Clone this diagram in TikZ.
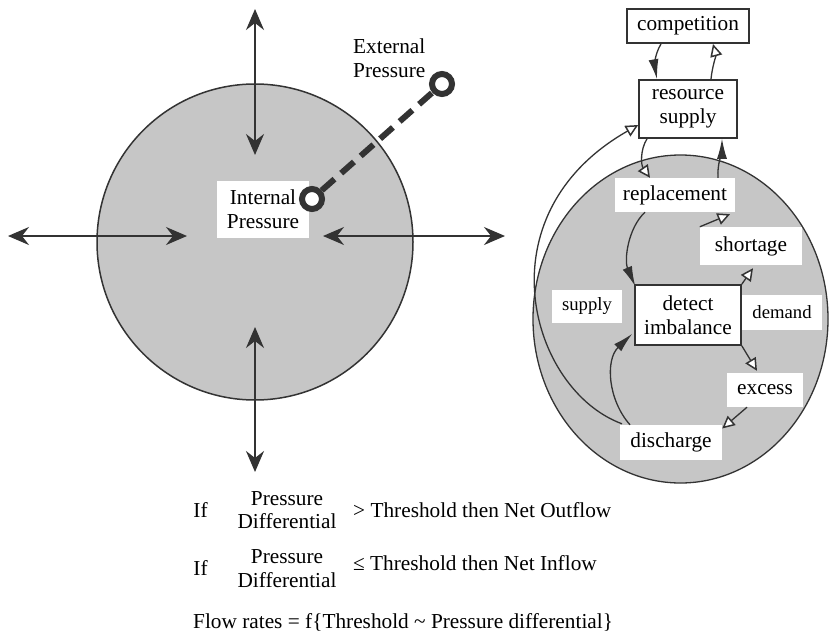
\documentclass[tikz,border=0pt]{standalone}
\usepackage{fontspec}
\setmainfont{Liberation Serif}
\usetikzlibrary{arrows.meta}
\definecolor{ink}{HTML}{333333}
\definecolor{shade}{HTML}{C6C6C6}
\tikzset{
  txt/.style={font=\fontsize{21.3pt}{24pt}\selectfont, inner sep=0pt, text=black},
  smalltxt/.style={font=\fontsize{18.7pt}{22pt}\selectfont, inner sep=0pt, text=black},
  wbox/.style={txt, fill=white, align=center},
  bbox/.style={txt, fill=white, draw=ink, align=center},
  dbl/.style={draw=ink, line width=1.9pt, {Stealth[length=21pt,width=18pt,inset=7pt]}-{Stealth[length=21pt,width=18pt,inset=7pt]}},
  ring/.style={circle, draw=ink, fill=white, line width=6pt, minimum size=20pt, inner sep=0pt},
  fl/.style={draw=ink, line width=1.3pt, -{Latex[length=20pt,width=10pt]}},
  op/.style={draw=ink, line width=1.3pt, -{Triangle[open,length=12.5pt,width=12pt,fill=white,line width=1.5pt]}},
}
\begin{document}
\begin{tikzpicture}[x=1pt,y=-1pt]
\useasboundingbox[fill=white] (0,0) rectangle (830,640);
% ---------- left circle ----------
\draw[fill=shade, draw=ink, line width=1.5pt] (255,242) circle[radius=158];
\coordinate (topout) at (255,9);
\coordinate (topin) at (255,155);
\coordinate (botin) at (255,327);
\coordinate (botout) at (255,472);
\coordinate (leftout) at (8,236);
\coordinate (leftin) at (187,236);
\coordinate (rightin) at (323,236);
\coordinate (rightout) at (505,236);
\draw[dbl] (topout) -- (topin);
\draw[dbl] (botin) -- (botout);
\draw[dbl] (leftout) -- (leftin);
\draw[dbl] (rightin) -- (rightout);
\node[wbox, minimum width=92pt, minimum height=57pt] (ip) at (263,209.5) {Internal\\Pressure};
\node[txt, align=left, anchor=north west] (ep) at (353,39) {External\\Pressure};
\node[ring] (inring) at (312,199) {};
\node[ring] (exring) at (442,84) {};
\draw[draw=ink, line width=6pt, dash pattern=on 17pt off 9pt] (inring) -- (exring);
% ---------- right ellipse ----------
\draw[fill=shade, draw=ink, line width=1.3pt] (680.5,319) ellipse[x radius=147.5, y radius=164];
\node[bbox, line width=2pt, minimum width=122pt, minimum height=34pt] (comp) at (688,26) {competition};
\node[bbox, line width=1.6pt, minimum width=98pt, minimum height=58pt] (res) at (688,109) {resource\\supply};
\node[wbox, minimum width=120pt, minimum height=34pt] (rep) at (675,195) {replacement};
\node[wbox, minimum width=102pt, minimum height=38pt] (short) at (751,246) {shortage};
\node[bbox, line width=1.6pt, minimum width=106pt, minimum height=60pt] (det) at (688,315) {detect\\imbalance};
\node[smalltxt, fill=white, minimum width=70pt, minimum height=33pt] (sup) at (587,306.5) {supply};
\node[smalltxt, fill=white, minimum width=80pt, minimum height=35pt] (dem) at (782,312.5) {demand};
\node[wbox, minimum width=76pt, minimum height=34pt] (exc) at (765,390) {excess};
\node[wbox, minimum width=102pt, minimum height=35pt] (dis) at (671,442.5) {discharge};
% connectors
\draw[fl] ([xshift=-27pt]comp.south) .. controls (654,55) and (655,68) .. ([xshift=-31pt]res.north);
\draw[op] ([xshift=23pt]res.north) .. controls (712,68) and (716,55) .. ([xshift=25pt]comp.south);
\draw[op] ([xshift=-41pt]res.south) .. controls (640,150) and (641,165) .. ([xshift=-25pt]rep.north);
\draw[fl] ([xshift=43pt]rep.north) .. controls (717,165) and (722,150) .. ([xshift=34pt]res.south);
\draw[fl] ([xshift=-30pt]rep.south) .. controls (628,228) and (624,260) .. ([xshift=1pt,yshift=-2pt]det.north west);
\draw[op] (short.north west) -- ([xshift=55pt,yshift=-2pt]rep.south);
\draw[op] (det.north east) -- ([xshift=2pt,yshift=-3pt]short.south);
\draw[op] (det.south east) -- ([xshift=-8pt,yshift=2pt]exc.north);
\draw[op] ([xshift=-18pt]exc.south) -- ([yshift=14pt]dis.east);
\draw[fl] ([xshift=-41pt]dis.north) .. controls (608,400) and (605,360) .. ([xshift=-2pt,yshift=12pt]det.south west);
\draw[op] ([xshift=-49pt,yshift=1pt]dis.north) .. controls (530,390) and (480,215) .. ([yshift=-16pt]res.west);
% ---------- text ----------
\node[txt, anchor=base] (if1) at (200.5,517) {If};
\node[txt, anchor=base] (pa) at (287,505) {Pressure};
\node[txt, anchor=base] (da) at (287,528) {Differential};
\node[txt, anchor=base west] (ta) at (353,517) {> Threshold then Net Outflow};
\node[txt, anchor=base] (if2) at (200.5,575) {If};
\node[txt, anchor=base] (pb) at (287,563) {Pressure};
\node[txt, anchor=base] (db) at (287,587) {Differential};
\node[txt, anchor=base west] (tb) at (353,570) {≤ Threshold then Net Inflow};
\node[txt, anchor=base west] (flow) at (193,628) {Flow rates = f\{Threshold \textasciitilde{} Pressure differential\}};
\end{tikzpicture}
\end{document}
